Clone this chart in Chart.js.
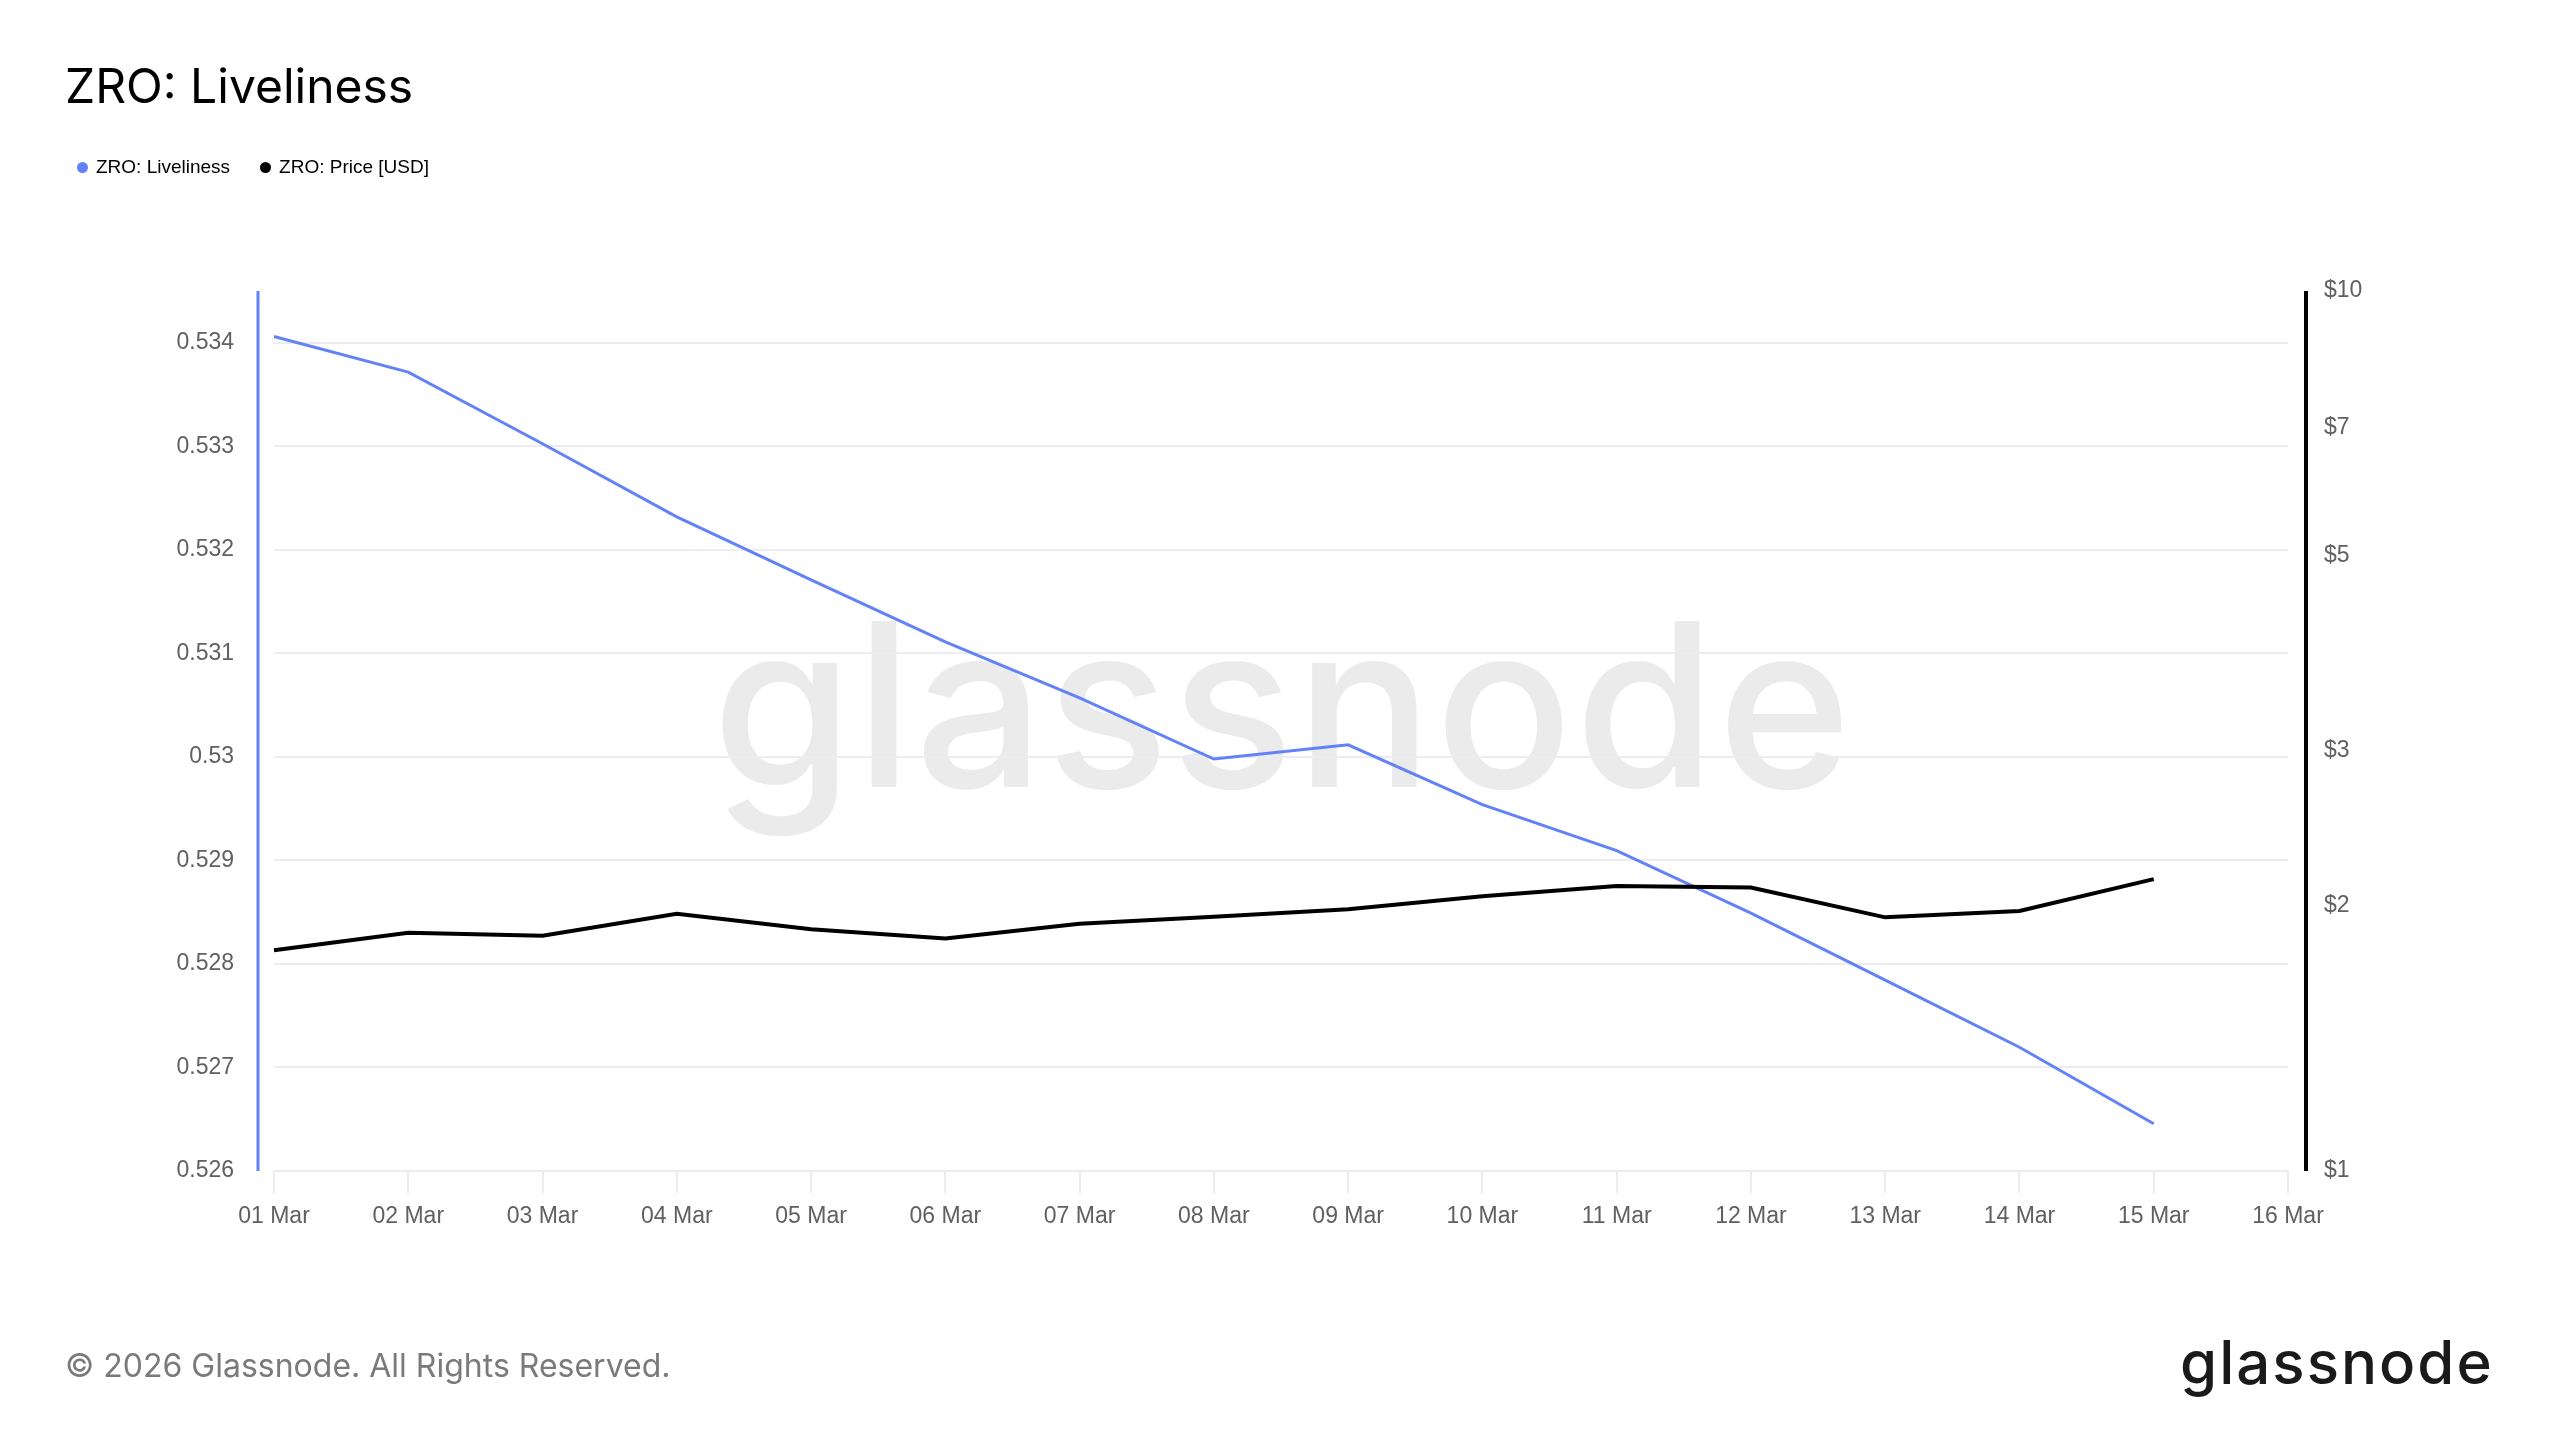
<!DOCTYPE html>
<html>
<head>
<meta charset="utf-8">
<script src="https://cdn.jsdelivr.net/npm/chart.js@4.4.1/dist/chart.umd.min.js"></script>
<style>
  html, body { margin: 0; padding: 0; background: #ffffff; }
  #wrap { position: relative; width: 2560px; height: 1440px; overflow: hidden; background: #fff; }
  #chart { position: absolute; left: 0; top: 0; }
  .txt { position: absolute; white-space: nowrap; }
  #title { left: 65px; top: 62px; font: 400 48px Inter, sans-serif; line-height: 48px; color: #000; }
  #legend { left: 77px; top: 157px; height: 20px; display: flex; align-items: center; font: 19px "Liberation Sans", Arial, sans-serif; color: #000; }
  #legend .item { display: flex; align-items: center; margin-right: 30px; }
  #legend .dot { width: 11px; height: 11px; border-radius: 50%; margin-right: 8px; }
  #footer { left: 65px; top: 1349px; font: 400 32px Inter, sans-serif; line-height: 34px; color: #7a7a7a; }
  #logo { left: 2180px; top: 1332px; font: 500 60px Inter, sans-serif; line-height: 60px; color: #1a1a1a; letter-spacing: 2px; }
  #watermark { left: 712px; top: 590px; font: 500 228px Inter, sans-serif; line-height: 228px; color: #ebebeb; letter-spacing: 2px; }
</style>
</head>
<body>
<div id="wrap">
  <div id="watermark" class="txt">glassnode</div>
  <canvas id="chart" width="2560" height="1440"></canvas>
  <div id="title" class="txt">ZRO: Liveliness</div>
  <div id="legend" class="txt"></div>
  <div id="footer" class="txt">© 2026 Glassnode. All Rights Reserved.</div>
  <div id="logo" class="txt">glassnode</div>
</div>
<script>
// ---- data ----
const dates = ["01 Mar","02 Mar","03 Mar","04 Mar","05 Mar","06 Mar","07 Mar","08 Mar","09 Mar","10 Mar","11 Mar","12 Mar","13 Mar","14 Mar","15 Mar","16 Mar"];
const liveliness = [0.534061, 0.533717, 0.533025, 0.532319, 0.531710, 0.531110, 0.530569, 0.529979, 0.530117, 0.529539, 0.529095, 0.528491, 0.527843, 0.527195, 0.526456];
const priceUsd = [1.782, 1.865, 1.851, 1.960, 1.882, 1.837, 1.910, 1.945, 1.984, 2.052, 2.108, 2.100, 1.942, 1.975, 2.146];
const livelinessTicks = [0.526, 0.527, 0.528, 0.529, 0.530, 0.531, 0.532, 0.533, 0.534];
const priceTicks = [1, 2, 3, 5, 7, 10];
const seriesNames = ["ZRO: Liveliness", "ZRO: Price [USD]"];

const BLUE = "rgb(99,130,247)";
const BLACK = "#000000";
const GRID = "#ececf1";
const TICK_FONT = { family: "'Liberation Sans', Arial, sans-serif", size: 23 };
const TICK_COLOR = "#606060";

// legend (HTML)
const legendEl = document.getElementById("legend");
[[seriesNames[0], BLUE], [seriesNames[1], BLACK]].forEach(([name, col]) => {
  const it = document.createElement("div"); it.className = "item";
  const d = document.createElement("span"); d.className = "dot"; d.style.background = col;
  const t = document.createElement("span"); t.textContent = name;
  it.appendChild(d); it.appendChild(t); legendEl.appendChild(it);
});

const axisLines = {
  id: "axisLines",
  afterDraw(chart) {
    const { ctx, chartArea: a } = chart;
    ctx.save();
    ctx.lineWidth = 3;
    ctx.strokeStyle = BLUE;
    ctx.beginPath(); ctx.moveTo(a.left - 16, a.top); ctx.lineTo(a.left - 16, a.bottom); ctx.stroke();
    ctx.lineWidth = 4;
    ctx.strokeStyle = BLACK;
    ctx.beginPath(); ctx.moveTo(a.right + 18, a.top); ctx.lineTo(a.right + 18, a.bottom); ctx.stroke();
    ctx.restore();
  }
};

new Chart(document.getElementById("chart"), {
  type: "line",
  data: {
    labels: dates,
    datasets: [
      { label: seriesNames[0], data: liveliness, yAxisID: "yL", borderColor: BLUE, backgroundColor: BLUE, borderWidth: 3, pointRadius: 0, tension: 0, order: 2 },
      { label: seriesNames[1], data: priceUsd, yAxisID: "yR", borderColor: BLACK, backgroundColor: BLACK, borderWidth: 4, pointRadius: 0, tension: 0, order: 1 }
    ]
  },
  options: {
    responsive: false,
    animation: false,
    devicePixelRatio: 1,
    layout: { padding: { left: 65, right: 0, top: 291, bottom: 169 } },
    plugins: { legend: { display: false }, title: { display: false }, tooltip: { enabled: false } },
    scales: {
      x: {
        type: "category",
        offset: false,
        grid: { display: true, drawOnChartArea: false, drawTicks: true, tickLength: 22, color: GRID, lineWidth: 2 },
        border: { display: true, color: GRID, width: 2 },
        ticks: { autoSkip: false, maxRotation: 0, padding: 10, font: TICK_FONT, color: TICK_COLOR },
        afterFit(s) { s.height = 100; }
      },
      yL: {
        type: "linear",
        position: "left",
        min: 0.526,
        max: 0.5345,
        grid: { drawOnChartArea: true, drawTicks: false, color: GRID, lineWidth: 2 },
        border: { display: false },
        afterBuildTicks(s) { s.ticks = livelinessTicks.map(v => ({ value: v })); },
        ticks: { padding: 40, font: TICK_FONT, color: TICK_COLOR, callback: v => String(parseFloat(Number(v).toFixed(3))) },
        afterFit(s) { s.width = 209; }
      },
      yR: {
        type: "logarithmic",
        position: "right",
        min: 1,
        max: 10,
        grid: { drawOnChartArea: false, drawTicks: false },
        border: { display: false },
        afterBuildTicks(s) { s.ticks = priceTicks.map(v => ({ value: v })); },
        ticks: { padding: 36, font: TICK_FONT, color: TICK_COLOR, callback: v => "$" + v },
        afterFit(s) { s.width = 272; }
      }
    }
  },
  plugins: [axisLines]
});
</script>
</body>
</html>
